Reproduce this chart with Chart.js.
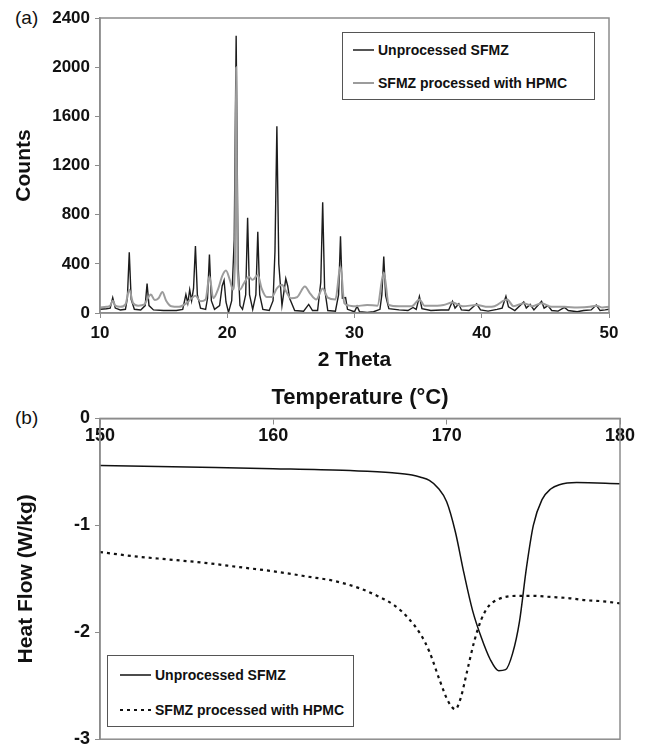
<!DOCTYPE html>
<html>
<head>
<meta charset="utf-8">
<title>SFMZ XRD and DSC</title>
<script src="https://cdn.jsdelivr.net/npm/chart.js@4.4.1/dist/chart.umd.min.js"></script>
<style>
  html, body { margin: 0; padding: 0; background: #fff; overflow: hidden; }
  body { width: 645px; height: 748px; position: relative; font-family: "Liberation Sans", Arial, sans-serif; color: #111; }
  canvas { position: absolute; left: 0; }
  #xrd { top: 0; }
  #dsc { top: 375px; }
  .tag { position: absolute; left: 15px; font-size: 19px; line-height: 20px; }
  .legend { position: absolute; border: 1.5px solid #555; background: #fff; box-sizing: border-box; }
  .legend .item { position: absolute; display: flex; align-items: center; height: 16px; font-weight: bold; font-size: 14px; white-space: nowrap; }
  .legend svg { margin-right: 4px; }
</style>
</head>
<body>
<div class="tag" style="top:8px">(a)</div>
<div class="tag" style="top:408px">(b)</div>
<canvas id="xrd" width="645" height="378"></canvas>
<canvas id="dsc" width="645" height="380"></canvas>
<div id="legendA" class="legend" style="left:342px; top:32px; width:253px; height:68px"></div>
<div id="legendB" class="legend" style="left:107px; top:655px; width:247px; height:72px"></div>

<script>
(function() {
    'use strict';

    const seriesNames = ['Unprocessed SFMZ', 'SFMZ processed with HPMC'];

    // (a) powder X-ray diffraction
    const unprocTheta = [
        10.0, 10.5, 10.8, 11.0, 11.2, 11.6, 12.0, 12.15, 12.3, 12.45, 12.7, 13.2, 13.55, 13.7, 13.85,
        14.2, 15.0, 16.0, 16.5, 16.75, 16.9, 17.05, 17.2, 17.35, 17.5, 17.65, 17.9, 18.3, 18.45, 18.6,
        18.75, 19.0, 19.4, 19.6, 19.75, 19.9, 20.1, 20.35, 20.55, 20.7, 20.85, 21.0, 21.2, 21.45, 21.6,
        21.75, 22.0, 22.25, 22.4, 22.55, 22.8, 23.3, 23.6, 23.75, 23.9, 24.05, 24.3, 24.6, 24.75, 24.9,
        25.3, 26.0, 26.4, 26.7, 27.1, 27.35, 27.5, 27.65, 27.9, 28.5, 28.75, 28.9, 29.05, 29.3, 29.45,
        30.0, 30.2, 30.4, 31.0, 31.5, 32.0, 32.15, 32.3, 32.45, 32.7, 33.5, 34.2, 34.6, 34.85, 35.1,
        35.3, 36.0, 36.8, 37.4, 37.7, 37.9, 38.2, 38.4, 39.0, 39.6, 39.9, 40.5, 41.2, 41.6, 41.9,
        42.1, 42.6, 43.3, 43.5, 43.8, 44.1, 44.7, 44.9, 45.2, 45.5, 46.0, 46.5, 46.8, 47.5, 48.0,
        48.6, 49.0, 49.3, 49.7, 50.0
    ];
    const unprocCounts = [
        30, 35, 40, 125, 40, 25, 30, 120, 495, 110, 30, 25, 60, 240, 60,
        25, 20, 20, 30, 150, 80, 190, 100, 200, 545, 150, 40, 30, 120, 475,
        100, 30, 60, 220, 265, 90, 5, 100, 600, 2255, 400, 60, 30, 150, 775,
        150, 30, 150, 660, 150, 30, 20, 100, 500, 1520, 400, 60, 280, 220, 120,
        20, 15, 70, 20, 20, 250, 900, 200, 20, 15, 150, 625, 120, 125, 30,
        10, 55, 10, 5, 10, 30, 150, 460, 140, 35, 25, 20, 45, 30, 135,
        35, 20, 25, 25, 95, 40, 75, 25, 20, 75, 25, 15, 30, 40, 135,
        50, 20, 90, 40, 70, 25, 95, 40, 60, 20, 15, 45, 20, 10, 20,
        25, 65, 20, 25, 30
    ];
    const hpmcTheta = [
        10.0, 10.5, 10.8, 11.0, 11.2, 11.6, 12.0, 12.3, 12.6, 13.0, 13.5, 13.7, 14.0, 14.3, 14.6,
        14.9, 15.2, 15.6, 16.2, 16.8, 17.2, 17.5, 17.9, 18.3, 18.6, 18.9, 19.3, 19.6, 19.9, 20.2,
        20.45, 20.6, 20.7, 20.8, 21.0, 21.3, 21.7, 22.0, 22.4, 22.7, 23.1, 23.5, 23.9, 24.3, 24.6,
        25.0, 25.5, 26.1, 26.5, 27.0, 27.5, 27.9, 28.5, 28.9, 29.2, 29.6, 30.0, 31.0, 31.8, 32.3,
        32.7, 33.5, 34.5, 35.1, 35.5, 36.5, 37.0, 37.7, 38.5, 39.6, 40.5, 41.0, 42.0, 42.5, 43.3,
        44.0, 44.7, 45.5, 46.5, 47.5, 48.5, 49.0, 49.5, 50.0
    ];
    const hpmcCounts = [
        45, 50, 60, 100, 60, 50, 70, 190, 80, 60, 70, 110, 150, 105, 120,
        170, 100, 55, 50, 80, 120, 140, 95, 110, 300, 120, 200, 300, 345, 270,
        190, 400, 2000, 400, 190, 240, 295, 270, 310, 200, 130, 130, 200, 230, 180,
        120, 130, 215, 160, 110, 200, 125, 110, 380, 80, 60, 55, 65, 60, 330,
        65, 55, 55, 110, 60, 60, 65, 85, 55, 65, 50, 55, 110, 55, 80,
        55, 80, 50, 50, 45, 50, 60, 45, 50
    ];
    const countTicks = [0, 400, 800, 1200, 1600, 2000, 2400];
    const thetaTicks = [10, 20, 30, 40, 50];

    // (b) DSC heat flow
    const unprocTemp = [
        150, 155, 160, 164, 166, 167, 168, 168.5, 169, 169.5, 170, 170.5, 171, 171.5, 172,
        172.5, 173, 173.4, 173.8, 174.2, 174.6, 175, 175.5, 176, 176.5, 177.5, 180
    ];
    const unprocHeat = [
        -0.44, -0.455, -0.47, -0.485, -0.5, -0.51, -0.53, -0.55, -0.58, -0.65, -0.78, -1.06, -1.45, -1.8, -2.05,
        -2.25, -2.36, -2.35, -2.2, -1.9, -1.4, -1.0, -0.76, -0.66, -0.62, -0.6, -0.61
    ];
    const hpmcTemp = [
        150, 152, 154, 156, 158, 160, 162, 163.5, 165, 166, 167, 167.8, 168.5, 169, 169.6,
        170.1, 170.5, 170.8, 171.2, 171.6, 172.0, 172.4, 173.0, 174, 175, 176, 177, 178, 179, 180
    ];
    const hpmcHeat = [
        -1.25, -1.29, -1.32, -1.35, -1.39, -1.43, -1.48, -1.52, -1.59, -1.66, -1.75, -1.87, -2.02, -2.18, -2.45,
        -2.65, -2.72, -2.62, -2.35, -2.08, -1.88, -1.76, -1.69, -1.66, -1.66, -1.67, -1.68, -1.7, -1.71, -1.73
    ];
    const heatTicks = [0, -1, -2, -3];
    const tempTicks = [150, 160, 170, 180];

    const FONT = '"Liberation Sans", Arial, sans-serif';
    const AXIS_GREY = '#8c8c8c';

    function toPoints(xs, ys) {
        return xs.map((x, i) => ({ x: x, y: ys[i] }));
    }

    function fixedTicks(values) {
        return function(scale) {
            scale.ticks = values.map(v => ({ value: v }));
        };
    }

    function plainLabel(value) {
        return String(value);
    }

    // grey box round the plot area
    const framePlugin = {
        id: 'frame',
        afterDraw(chart) {
            const { ctx, chartArea: a } = chart;
            ctx.save();
            ctx.strokeStyle = AXIS_GREY;
            ctx.lineWidth = 1.5;
            ctx.strokeRect(a.left, a.top, a.right - a.left, a.bottom - a.top);
            ctx.restore();
        }
    };

    const xrdChart = new Chart(document.getElementById('xrd'), {
        type: 'line',
        data: {
            datasets: [{
                label: seriesNames[0],
                data: toPoints(unprocTheta, unprocCounts),
                borderColor: '#1c1c1c',
                borderWidth: 1.4,
                pointRadius: 0,
                tension: 0,
                order: 1
            }, {
                label: seriesNames[1],
                data: toPoints(hpmcTheta, hpmcCounts),
                borderColor: '#9c9c9c',
                borderWidth: 2,
                pointRadius: 0,
                cubicInterpolationMode: 'monotone',
                order: 0
            }]
        },
        options: {
            responsive: false,
            animation: false,
            layout: { padding: { left: 0, right: 36, top: 18, bottom: 0 } },
            plugins: { legend: { display: false }, tooltip: { enabled: false } },
            scales: {
                x: {
                    type: 'linear',
                    min: 10,
                    max: 50,
                    afterBuildTicks: fixedTicks(thetaTicks),
                    afterFit(scale) { scale.height = 65; },
                    ticks: { padding: 5, color: '#111', callback: plainLabel, font: { family: FONT, size: 17, weight: 'bold' } },
                    grid: { drawOnChartArea: false, tickLength: 5, color: AXIS_GREY },
                    border: { color: AXIS_GREY, width: 1.5 },
                    title: {
                        display: true,
                        text: '2 Theta',
                        color: '#111',
                        padding: { top: 0, bottom: 5 },
                        font: { family: FONT, size: 21, weight: 'bold' }
                    }
                },
                y: {
                    min: 0,
                    max: 2400,
                    afterBuildTicks: fixedTicks(countTicks),
                    afterFit(scale) { scale.width = 100; },
                    ticks: { padding: 5, color: '#111', callback: plainLabel, font: { family: FONT, size: 17, weight: 'bold' } },
                    grid: { drawOnChartArea: false, tickLength: 5, color: AXIS_GREY },
                    border: { color: AXIS_GREY, width: 1.5 },
                    title: {
                        display: true,
                        text: 'Counts',
                        color: '#111',
                        padding: { top: 12, bottom: 0 },
                        font: { family: FONT, size: 21, weight: 'bold' }
                    }
                }
            }
        },
        plugins: [framePlugin]
    });

    const dscChart = new Chart(document.getElementById('dsc'), {
        type: 'line',
        data: {
            datasets: [{
                label: seriesNames[0],
                data: toPoints(unprocTemp, unprocHeat),
                borderColor: '#111',
                borderWidth: 1.5,
                pointRadius: 0,
                cubicInterpolationMode: 'monotone'
            }, {
                label: seriesNames[1],
                data: toPoints(hpmcTemp, hpmcHeat),
                borderColor: '#111',
                borderWidth: 2.2,
                borderDash: [3, 4],
                pointRadius: 0,
                cubicInterpolationMode: 'monotone'
            }]
        },
        options: {
            responsive: false,
            animation: false,
            layout: { padding: { left: 0, right: 25, top: 0, bottom: 15 } },
            plugins: {
                legend: { display: false },
                tooltip: { enabled: false },
                // axis title of the temperature scale, placed above the plot
                title: {
                    display: true,
                    text: 'Temperature (\u00B0C)',
                    color: '#111',
                    fullSize: false,
                    padding: { top: 10, bottom: 7 },
                    font: { family: FONT, size: 22, weight: 'bold' }
                }
            },
            scales: {
                x: {
                    type: 'linear',
                    // axis pinned to y = 0 so labels hang under the top line, ticks point inwards
                    position: { y: 0 },
                    min: 150,
                    max: 180,
                    afterBuildTicks: fixedTicks(tempTicks),
                    ticks: { padding: 2, color: '#111', callback: plainLabel, font: { family: FONT, size: 18, weight: 'bold' } },
                    grid: { drawOnChartArea: false, tickLength: 5, color: AXIS_GREY },
                    border: { color: AXIS_GREY, width: 1.5 }
                },
                y: {
                    min: -3,
                    max: 0,
                    afterBuildTicks: fixedTicks(heatTicks),
                    afterFit(scale) { scale.width = 100; },
                    ticks: { padding: 5, color: '#111', callback: plainLabel, font: { family: FONT, size: 18, weight: 'bold' } },
                    grid: { drawOnChartArea: false, tickLength: 5, color: AXIS_GREY },
                    border: { color: AXIS_GREY, width: 1.5 },
                    title: {
                        display: true,
                        text: 'Heat Flow (W/kg)',
                        color: '#111',
                        padding: { top: 14, bottom: 0 },
                        font: { family: FONT, size: 21, weight: 'bold' }
                    }
                }
            }
        },
        plugins: [framePlugin]
    });

    // html legends boxed like the original figure
    function buildLegend(boxId, chart, rows, sampleLeft, sampleWidth) {
        const box = document.getElementById(boxId);
        chart.data.datasets.forEach((ds, i) => {
            const item = document.createElement('div');
            item.className = 'item';
            item.style.left = sampleLeft + 'px';
            item.style.top = (rows[i] - 8) + 'px';
            const dash = ds.borderDash ? ds.borderDash.join(',') : 'none';
            item.innerHTML =
                '<svg width="' + sampleWidth + '" height="6"><line x1="0" y1="3" x2="' + sampleWidth +
                '" y2="3" stroke="' + ds.borderColor + '" stroke-width="' + Math.max(ds.borderWidth, 1.5) +
                '" stroke-dasharray="' + dash + '"/></svg><span>' + ds.label + '</span>';
            box.appendChild(item);
        });
    }

    buildLegend('legendA', xrdChart, [17, 50], 10, 21);
    buildLegend('legendB', dscChart, [19, 54], 12, 31);
})();
</script>
</body>
</html>
